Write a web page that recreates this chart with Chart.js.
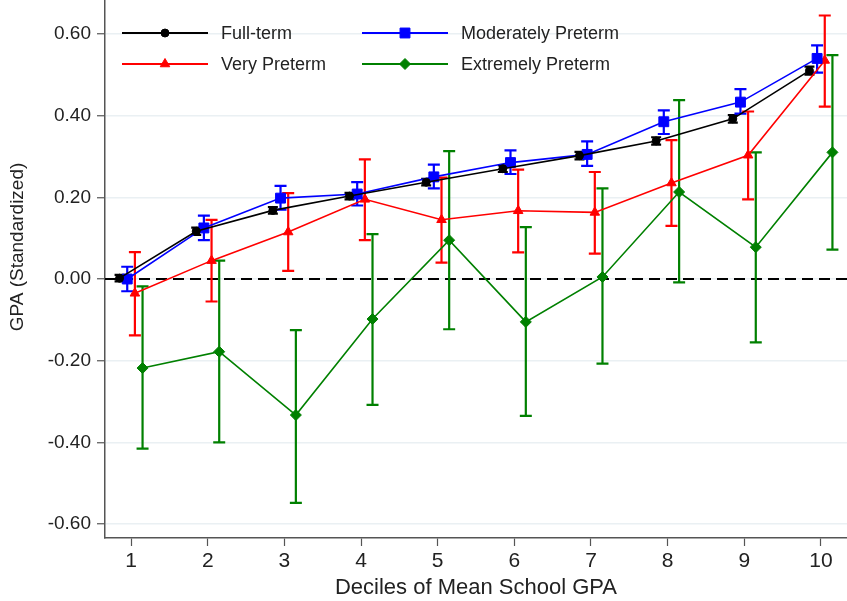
<!DOCTYPE html>
<html>
<head>
<meta charset="utf-8">
<script src="https://cdn.jsdelivr.net/npm/chart.js@4"></script>
<style>
  html, body { margin: 0; padding: 0; background: #fff; }
  #wrap { width: 847px; height: 601px; }
</style>
</head>
<body>
<div id="wrap"><canvas id="gpaChart"></canvas></div>
<script>
// Chart data
const deciles = [1, 2, 3, 4, 5, 6, 7, 8, 9, 10];
const yTicks = [-0.6, -0.4, -0.2, 0, 0.2, 0.4, 0.6];

const fullTerm    = [0.002, 0.117, 0.168, 0.203, 0.237, 0.270, 0.302, 0.338, 0.392, 0.510];
const fullTermLo  = [-0.006, 0.108, 0.160, 0.195, 0.229, 0.262, 0.293, 0.329, 0.383, 0.500];
const fullTermHi  = [0.010, 0.126, 0.176, 0.211, 0.245, 0.278, 0.311, 0.347, 0.401, 0.520];

const modPre      = [0.000, 0.125, 0.198, 0.208, 0.250, 0.285, 0.305, 0.385, 0.433, 0.540];
const modPreLo    = [-0.030, 0.095, 0.170, 0.180, 0.222, 0.257, 0.277, 0.355, 0.405, 0.505];
const modPreHi    = [0.030, 0.155, 0.228, 0.237, 0.280, 0.315, 0.337, 0.413, 0.465, 0.572];

const veryPre     = [-0.035, 0.045, 0.115, 0.195, 0.145, 0.167, 0.163, 0.235, 0.303, 0.535];
const veryPreLo   = [-0.138, -0.055, 0.020, 0.095, 0.040, 0.065, 0.062, 0.130, 0.195, 0.422];
const veryPreHi   = [0.066, 0.145, 0.210, 0.293, 0.248, 0.268, 0.262, 0.340, 0.410, 0.645];

const extPre      = [-0.218, -0.178, -0.333, -0.098, 0.095, -0.105, 0.005, 0.213, 0.078, 0.310];
const extPreLo    = [-0.415, -0.400, -0.548, -0.308, -0.123, -0.335, -0.207, -0.008, -0.155, 0.072];
const extPreHi    = [-0.018, 0.045, -0.125, 0.110, 0.313, 0.127, 0.222, 0.438, 0.310, 0.548];

// horizontal dodge so the series do not overlap
const dodge = [-0.15, -0.05, 0.05, 0.15];

function toPoints(values, shift) {
  return values.map((v, i) => ({ x: deciles[i] + shift, y: v }));
}

const seriesDefs = [
  { label: 'Full-term', values: fullTerm, lo: fullTermLo, hi: fullTermHi, color: '#000000', style: 'circle', radius: 4, cap: 5 },
  { label: 'Moderately Preterm', values: modPre, lo: modPreLo, hi: modPreHi, color: '#0000ff', style: 'rect', radius: 7, cap: 6 },
  { label: 'Very Preterm', values: veryPre, lo: veryPreLo, hi: veryPreHi, color: '#ff0000', style: 'triangle', radius: 5.5, cap: 6 },
  { label: 'Extremely Preterm', values: extPre, lo: extPreLo, hi: extPreHi, color: '#008000', style: 'rectRot', radius: 5.5, cap: 6 }
];

const datasets = seriesDefs.map((s, k) => ({
  label: s.label,
  data: toPoints(s.values, dodge[k]),
  errLo: s.lo,
  errHi: s.hi,
  capHalf: s.cap,
  borderColor: s.color,
  backgroundColor: s.color,
  borderWidth: 1.6,
  pointStyle: s.style,
  pointRadius: s.radius,
  pointBorderWidth: 1,
  tension: 0,
  clip: false
}));

// Error bars and the dashed zero line, drawn through the chart scales
const errorBarPlugin = {
  id: 'errorBars',
  beforeDatasetsDraw(chart) {
    const { ctx, chartArea, scales: { x, y } } = chart;
    ctx.save();
    // zero reference line
    const y0 = y.getPixelForValue(0);
    ctx.strokeStyle = '#000';
    ctx.lineWidth = 2;
    ctx.setLineDash([11, 6]);
    ctx.beginPath();
    ctx.moveTo(chartArea.left, y0);
    ctx.lineTo(chartArea.right, y0);
    ctx.stroke();
    ctx.setLineDash([]);

    chart.data.datasets.forEach(ds => {
      ctx.strokeStyle = ds.borderColor;
      ctx.lineWidth = 2.2;
      ds.data.forEach((pt, i) => {
        const px = x.getPixelForValue(pt.x);
        const pLo = y.getPixelForValue(ds.errLo[i]);
        const pHi = y.getPixelForValue(ds.errHi[i]);
        ctx.beginPath();
        ctx.moveTo(px, pLo);
        ctx.lineTo(px, pHi);
        ctx.moveTo(px - ds.capHalf, pLo);
        ctx.lineTo(px + ds.capHalf, pLo);
        ctx.moveTo(px - ds.capHalf, pHi);
        ctx.lineTo(px + ds.capHalf, pHi);
        ctx.stroke();
      });
    });
    ctx.restore();
  }
};

// Two-column legend inside the plot, top left, plus the y title
const legendPlugin = {
  id: 'cornerLegend',
  afterDraw(chart) {
    const { ctx } = chart;
    const slots = [
      { lx: 122, ty: 33 }, { lx: 362, ty: 33 },
      { lx: 122, ty: 64 }, { lx: 362, ty: 64 }
    ];
    ctx.save();
    ctx.font = '18px "Liberation Sans", Arial, sans-serif';
    ctx.textBaseline = 'middle';
    chart.data.datasets.forEach((ds, n) => {
      const s = slots[n];
      ctx.strokeStyle = ds.borderColor;
      ctx.lineWidth = 2;
      ctx.beginPath();
      ctx.moveTo(s.lx, s.ty);
      ctx.lineTo(s.lx + 86, s.ty);
      ctx.stroke();
      ctx.fillStyle = ds.borderColor;
      ctx.lineWidth = 1;
      Chart.helpers.drawPoint(ctx, {
        pointStyle: ds.pointStyle,
        radius: ds.pointRadius,
        borderWidth: 1,
        rotation: 0
      }, s.lx + 43, s.ty);
      ctx.fillStyle = '#222';
      ctx.fillText(ds.label, s.lx + 99, s.ty + 1);
    });

    // y axis title
    ctx.translate(18, 247);
    ctx.rotate(-Math.PI / 2);
    ctx.textAlign = 'center';
    ctx.font = '19px "Liberation Sans", Arial, sans-serif';
    ctx.fillStyle = '#222';
    ctx.fillText('GPA (Standardized)', 0, 0);
    ctx.restore();
  }
};

const axisGray = '#555555';

new Chart(document.getElementById('gpaChart'), {
  type: 'line',
  data: { datasets },
  plugins: [errorBarPlugin, legendPlugin],
  options: {
    responsive: true,
    maintainAspectRatio: false,
    animation: false,
    layout: { autoPadding: false, padding: 0 },
    plugins: {
      legend: { display: false },
      tooltip: { enabled: false }
    },
    scales: {
      x: {
        type: 'linear',
        min: 0.66,
        max: 10.34,
        afterBuildTicks: axis => { axis.ticks = deciles.map(v => ({ value: v })); },
        afterFit: axis => {
          axis.height = 63;
          axis.paddingLeft = 0;
          axis.paddingRight = 0;
        },
        grid: {
          display: true,
          drawOnChartArea: false,
          tickColor: axisGray,
          tickLength: 8,
          tickWidth: 1.2
        },
        border: { display: true, color: axisGray, width: 1.5 },
        ticks: {
          color: '#222',
          padding: 3,
          maxRotation: 0,
          autoSkip: false,
          font: { family: '"Liberation Sans", Arial, sans-serif', size: 21 },
          callback: v => String(v)
        },
        title: {
          display: true,
          text: 'Deciles of Mean School GPA',
          color: '#222',
          padding: { top: 0, bottom: 0 },
          font: { family: '"Liberation Sans", Arial, sans-serif', size: 22 }
        }
      },
      y: {
        min: -0.634,
        max: 0.683,
        afterBuildTicks: axis => { axis.ticks = yTicks.map(v => ({ value: v })); },
        afterFit: axis => {
          axis.width = 105;
          axis.paddingTop = 0;
          axis.paddingBottom = 0;
        },
        grid: {
          display: true,
          color: '#eaf0f3',
          lineWidth: 1.5,
          tickColor: axisGray,
          tickLength: 8,
          tickWidth: 1.2
        },
        border: { display: true, color: axisGray, width: 1.5 },
        ticks: {
          color: '#222',
          padding: 6,
          font: { family: '"Liberation Sans", Arial, sans-serif', size: 19 },
          callback: v => v.toFixed(2)
        },
        title: { display: false }
      }
    }
  }
});
</script>
</body>
</html>
